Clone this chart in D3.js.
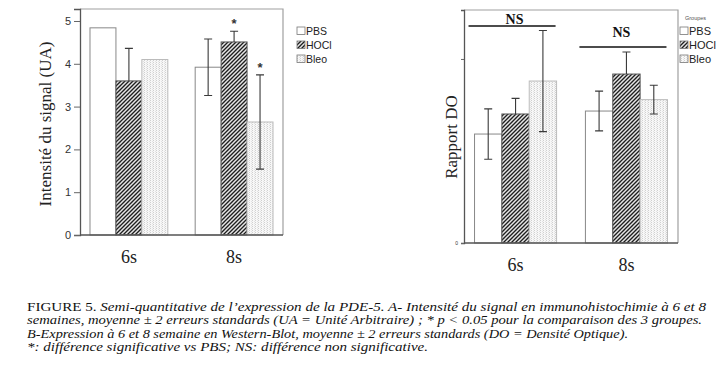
<!DOCTYPE html>
<html>
<head>
<meta charset="utf-8">
<script src="https://cdn.jsdelivr.net/npm/d3@7"></script>
<style>
  body { margin: 0; background: #fff; }
  svg { display: block; }
</style>
</head>
<body>
<div id="viz"></div>
<script>
// data
const groups = ["6s", "8s"];
const series = ["PBS", "HOCl", "Bleo"];

// panel A - intensité du signal (UA)
const meanA = { PBS: [4.84, 3.92], HOCl: [3.60, 4.51], Bleo: [4.10, 2.64] };
const errA  = { PBS: [null, 0.66], HOCl: [0.76, 0.25], Bleo: [null, 1.10] };
const starA = { PBS: [false, false], HOCl: [false, true], Bleo: [false, true] };
const ticksA = [0, 1, 2, 3, 4, 5];

// panel B - rapport DO (no scale printed, arbitrary units)
const meanB = { PBS: [0.592, 0.717], HOCl: [0.701, 0.918], Bleo: [0.880, 0.779] };
const errB  = { PBS: [0.137, 0.108], HOCl: [0.085, 0.120], Bleo: [0.275, 0.078] };
const ticksB = [0, 1];
const tickLabelsB = ["0", ""];
const nsLabels = ["NS", "NS"];

const legendLabelsA = ["PBS", "HOCl", "Bleo"];
const legendLabelsB = ["PBS", "HOCl", "Bleo"];

const caption = [
  { bold: "FIGURE 5. ", text: "Semi-quantitative de l\u2019expression de la PDE-5. A- Intensité du signal en immunohistochimie à 6 et 8", w: 679 },
  { bold: "", text: "semaines, moyenne ± 2 erreurs standards (UA = Unité Arbitraire) ; * p < 0.05 pour la comparaison des 3 groupes.", w: 675 },
  { bold: "", text: "B-Expression à 6 et 8 semaine en Western-Blot, moyenne ± 2 erreurs standards (DO = Densité Optique).", w: 601 },
  { bold: "", text: "*: différence significative vs PBS; NS: différence non significative.", w: 401 }
];

const SANS = "Arial, 'Liberation Sans', sans-serif";
const SERIF = "'Liberation Serif', 'Times New Roman', Times, serif";

const svg = d3.select("#viz").append("svg")
    .attr("width", 723)
    .attr("height", 370);

const defs = svg.append("defs");
const hatch = defs.append("pattern")
    .attr("id", "hatch")
    .attr("patternUnits", "userSpaceOnUse")
    .attr("width", 4).attr("height", 4);
hatch.append("rect").attr("width", 4).attr("height", 4).attr("fill", "#1e1e1e");
hatch.append("path")
    .attr("d", "M-1,1 L1,-1 M0,4 L4,0 M3,5 L5,3")
    .attr("stroke", "#e6e6e6").attr("stroke-width", 1.5);

const dots = defs.append("pattern")
    .attr("id", "dots")
    .attr("patternUnits", "userSpaceOnUse")
    .attr("width", 3).attr("height", 2);
dots.append("rect").attr("width", 3).attr("height", 2).attr("fill", "#f7f7f7");
dots.append("rect").attr("x", 0).attr("y", 0).attr("width", 1).attr("height", 1).attr("fill", "#d0d0d0");
dots.append("rect").attr("x", 2).attr("y", 1).attr("width", 1).attr("height", 1).attr("fill", "#e2e2e2");

const fills = { PBS: "#ffffff", HOCl: "url(#hatch)", Bleo: "url(#dots)" };
const strokes = { PBS: "#888", HOCl: "#555", Bleo: "#bbb" };
// the dark hatch swallows the lower half of its error bar
const hideLower = { PBS: false, HOCl: true, Bleo: false };

function drawPanel(cfg) {
    const g = svg.append("g");
    const x0 = d3.scaleBand().domain(groups).range([cfg.left, cfg.right])
        .paddingInner(0.26).paddingOuter(0.095);
    const x1 = d3.scaleBand().domain(series).range([0, x0.bandwidth()]);
    const y = d3.scaleLinear().domain([0, cfg.ymax]).range([cfg.bottom, cfg.top]);

    // light frame (top + right)
    g.append("path")
        .attr("d", `M${cfg.left},${cfg.top}H${cfg.right}V${cfg.bottom}`)
        .attr("fill", "none").attr("stroke", "#a0a0a0").attr("stroke-width", 1.2);

    series.forEach(s => {
        groups.forEach((grp, i) => {
            const bx = x0(grp) + x1(s);
            g.append("rect")
                .attr("x", bx)
                .attr("y", y(cfg.mean[s][i]))
                .attr("width", x1.bandwidth())
                .attr("height", y(0) - y(cfg.mean[s][i]))
                .attr("fill", fills[s])
                .attr("stroke", strokes[s]).attr("stroke-width", 1);
        });
    });

    // error bars
    series.forEach(s => {
        groups.forEach((grp, i) => {
            const e = cfg.err[s][i];
            if (e == null) return;
            const cx = x0(grp) + x1(s) + x1.bandwidth() / 2;
            const m = cfg.mean[s][i];
            const lo = hideLower[s] ? m : m - e;
            let d = `M${cx - 4},${y(m + e)}H${cx + 4}M${cx},${y(m + e)}V${y(lo)}`;
            if (!hideLower[s]) d += `M${cx - 4},${y(lo)}H${cx + 4}`;
            g.append("path")
                .attr("d", d)
                .attr("fill", "none").attr("stroke", "#3a3a3a").attr("stroke-width", 1.1);
            if (cfg.star && cfg.star[s][i]) {
                g.append("text")
                    .attr("font-family", SANS)
                    .attr("x", cx).attr("y", y(m + e) - 3)
                    .attr("text-anchor", "middle")
                    .attr("font-size", 13).attr("font-weight", "bold")
                    .attr("fill", "#333")
                    .text("*");
            }
        });
    });

    // axes
    const yAxis = d3.axisLeft(y).tickValues(cfg.ticks).tickSize(cfg.tickSize)
        .tickFormat((d, i) => cfg.tickLabels ? cfg.tickLabels[i] : d);
    const ya = g.append("g").attr("transform", `translate(${cfg.left},0)`).call(yAxis);
    ya.attr("font-family", SANS);
    ya.select(".domain").attr("stroke", "#555").attr("stroke-width", 1.3);
    ya.selectAll(".tick line").attr("stroke", "#666");
    ya.selectAll(".tick text")
        .attr("font-size", cfg.tickFont).attr("fill", "#333");

    g.append("line")
        .attr("x1", cfg.left).attr("x2", cfg.right)
        .attr("y1", y(0)).attr("y2", y(0))
        .attr("stroke", "#555").attr("stroke-width", 1.3);

    groups.forEach(grp => {
        g.append("text").attr("font-family", SERIF)
            .attr("x", x0(grp) + x0.bandwidth() / 2)
            .attr("y", cfg.bottom + 28)
            .attr("text-anchor", "middle")
            .attr("font-size", 18).attr("fill", "#222")
            .text(grp);
    });

    g.append("text").attr("font-family", SERIF)
        .attr("transform", `translate(${cfg.labelX},${cfg.labelY}) rotate(-90)`)
        .attr("text-anchor", "middle")
        .attr("font-size", 17).attr("fill", "#222")
        .text(cfg.label);

    // legend
    cfg.legend.forEach((lab, i) => {
        const ly = cfg.legendY + i * 14;
        g.append("rect")
            .attr("x", cfg.legendX).attr("y", ly - 7)
            .attr("width", 8).attr("height", 7.5)
            .attr("fill", fills[series[i]])
            .attr("stroke", "#777").attr("stroke-width", 0.8);
        g.append("text").attr("font-family", SANS)
            .attr("x", cfg.legendX + 9).attr("y", ly + 0.5)
            .attr("font-size", cfg.legendFont).attr("fill", "#222")
            .text(lab);
    });

    return { g, x0, y };
}

drawPanel({
    left: 80, right: 283, top: 9, bottom: 235, ymax: 5.28,
    mean: meanA, err: errA, star: starA,
    ticks: ticksA, tickSize: 6, tickFont: 11,
    label: "Intensité du signal (UA)", labelX: 51, labelY: 124,
    legend: legendLabelsA, legendX: 297, legendY: 34, legendFont: 10.5
});

const pB = drawPanel({
    left: 464, right: 678, top: 10, bottom: 243, ymax: 1.266,
    mean: meanB, err: errB, star: null,
    ticks: ticksB, tickLabels: tickLabelsB, tickSize: 3, tickFont: 5,
    label: "Rapport DO", labelX: 457, labelY: 137,
    legend: legendLabelsB, legendX: 680, legendY: 34, legendFont: 11
});

pB.g.append("text").attr("font-family", SANS)
    .attr("x", 685).attr("y", 20)
    .attr("font-size", 5.5).attr("fill", "#555")
    .text("Groupes");

// NS brackets over each group
const nsY = [26, 47];
groups.forEach((grp, i) => {
    const x0 = pB.x0;
    pB.g.append("line")
        .attr("x1", x0(grp) - 6).attr("x2", x0(grp) + x0.bandwidth() - 1)
        .attr("y1", nsY[i]).attr("y2", nsY[i])
        .attr("stroke", "#111").attr("stroke-width", 1.4);
    pB.g.append("text").attr("font-family", SERIF)
        .attr("x", x0(grp) + x0.bandwidth() / 2 - 1 + (i ? -4 : 0))
        .attr("y", nsY[i] - (i ? 10 : 2))
        .attr("text-anchor", "middle")
        .attr("font-size", 14).attr("font-weight", "bold").attr("fill", "#111")
        .text(nsLabels[i]);
});

// caption
caption.forEach((c, i) => {
    const t = svg.append("text").attr("font-family", SERIF)
        .attr("x", 27).attr("y", 311 + i * 13.3)
        .attr("font-size", 12.3).attr("fill", "#111")
        .attr("textLength", c.w).attr("lengthAdjust", "spacingAndGlyphs");
    if (c.bold) t.append("tspan").attr("font-weight", "normal").text(c.bold);
    t.append("tspan").attr("font-style", "italic").text(c.text);
});
</script>
</body>
</html>
